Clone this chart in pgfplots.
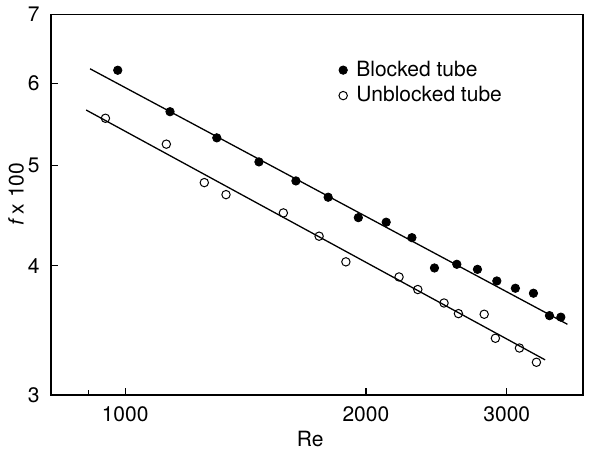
\documentclass[border=0pt]{standalone}
\usepackage{pgfplots}
\pgfplotsset{compat=1.18}
\usepackage{fontspec}
\setmainfont{TeX Gyre Heros}

% Friction factor against Reynolds number, blocked and unblocked tube
\pgfplotstableread{
Re    f
979   6.18
1138  5.635
1302  5.316
1470  5.039
1635  4.83
1794  4.658
1957  4.451
2120  4.406
2283  4.257
2436  3.98
2598  4.012
2757  3.968
2915  3.866
3075  3.804
3239  3.762
3392  3.579
3505  3.567
}\blocked

\pgfplotstableread{
Re    f
945   5.553
1126  5.242
1256  4.812
1337  4.685
1577  4.498
1748  4.271
1888  4.034
2200  3.901
2322  3.793
2504  3.681
2610  3.595
2811  3.590
2903  3.403
3111  3.33
3267  3.226
}\unblocked

\begin{document}
\fontsize{10.5}{12.6}\selectfont
\begin{tikzpicture}
\begin{axis}[
  name=ax,
  scale only axis,
  width=266pt, height=190.3pt,
  xmode=log, ymode=log,
  xmin=808, xmax=3736,
  ymin=3, ymax=7,
  axis line style={line width=0.65pt},
  xtick={1000,2000,3000},
  xticklabels={1000,2000,3000},
  minor xtick={900},
  ytick={3,4,5,6,7},
  yticklabels={3,4,5,6,7},
  minor ytick={},
  tick pos=left,
  tick align=inside,
  major tick length=3.5pt,
  minor tick length=2.5pt,
  tick style={line width=0.6pt, black},
  /pgf/number format/assume math mode=true,
  tick label style={font=\fontsize{10.5}{12.6}\selectfont},
  xticklabel style={yshift=-2pt},
  yticklabel style={xshift=-2pt},
  label style={font=\fontsize{10.5}{12.6}\selectfont},
  xlabel={Re},
  xlabel style={at={(axis description cs:0.487,-0.1156)}, anchor=center},
  ylabel={\textit{f}\,x 100},
  ylabel style={at={(axis description cs:-0.0658,0.528)}, anchor=center},
  legend style={at={(axis description cs:0.5405,0.889)}, anchor=north west,
    draw=none, fill=none, font=\fontsize{10.5}{12.6}\selectfont,
    row sep=-0.5pt, inner sep=0pt,
    /tikz/every odd column/.style={column sep=2.5pt}},
  legend cell align=left,
]
% fitted power-law lines
\addplot[black, line width=0.65pt, forget plot] coordinates {(904,6.20) (3572,3.511)};
\addplot[black, line width=0.65pt, forget plot] coordinates {(894,5.656) (3350,3.243)};
% measurements
\addplot[only marks, mark=*, mark size=2.1pt, mark options={fill=black, draw=black}] table[x=Re, y=f] {\blocked};
\addlegendentry{Blocked tube}
\addplot[only marks, mark=o, mark size=2.1pt, mark options={draw=black, fill=white, line width=0.5pt}] table[x=Re, y=f] {\unblocked};
\addlegendentry{Unblocked tube}
\end{axis}
\path (ax.south west) ++(-25.5pt,-30pt);
\path (ax.north east) ++(3pt,6.65pt);
\end{tikzpicture}
\end{document}
